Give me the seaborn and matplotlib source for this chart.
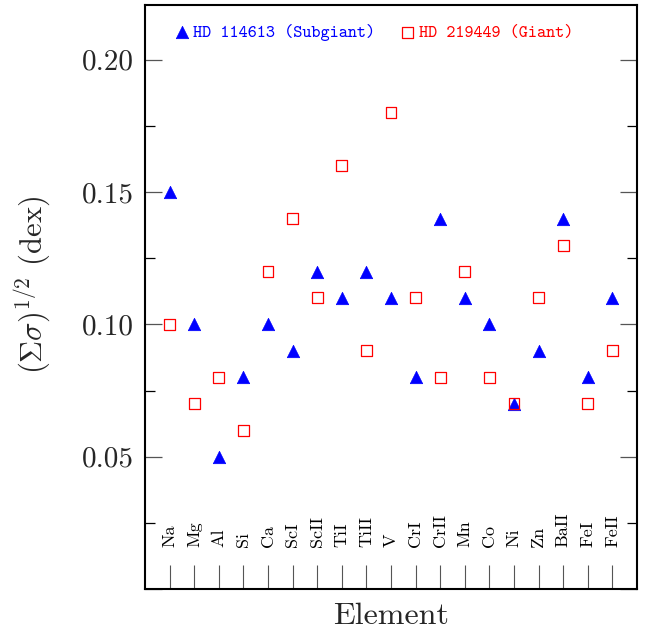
import matplotlib
matplotlib.use("Agg")
import matplotlib.pyplot as plt
from matplotlib.ticker import MultipleLocator, FuncFormatter
import seaborn as sns
import pandas as pd
import numpy as np

# Abundance uncertainty per element for the two stars
elements = ["Na", "Mg", "Al", "Si", "Ca", "ScI", "ScII", "TiI", "TiII", "V",
            "CrI", "CrII", "Mn", "Co", "Ni", "Zn", "BaII", "FeI", "FeII"]
subgiant = [0.15, 0.10, 0.05, 0.08, 0.10, 0.09, 0.12, 0.11, 0.12, 0.11,
            0.08, 0.14, 0.11, 0.10, 0.07, 0.09, 0.14, 0.08, 0.11]
giant = [0.10, 0.07, 0.08, 0.06, 0.12, 0.14, 0.11, 0.16, 0.09, 0.18,
         0.11, 0.08, 0.12, 0.08, 0.07, 0.11, 0.13, 0.07, 0.09]
series_labels = ["HD 114613 (Subgiant)", "HD 219449 (Giant)"]

sns.set_style("white")
plt.rcParams["font.family"] = ["cmr10", "DejaVu Serif"]
plt.rcParams["mathtext.fontset"] = "cm"
plt.rcParams["axes.unicode_minus"] = False
plt.rcParams["axes.formatter.use_mathtext"] = True

df = pd.DataFrame({"element": elements,
                   "pos": np.arange(1, len(elements) + 1),
                   "sub": subgiant, "giant": giant})

fig = plt.figure(figsize=(6.48, 6.32), dpi=100)
ax = fig.add_axes([0.2238, 0.068, 0.983 - 0.2238, 0.992 - 0.068])

sns.scatterplot(data=df, x="pos", y="sub", marker="^", s=80, color="blue",
                edgecolor="blue", linewidth=0.5, ax=ax, label=series_labels[0],
                zorder=3)
sns.scatterplot(data=df, x="pos", y="giant", marker="s", s=62, facecolor="none",
                edgecolor="red", linewidth=0.9, ax=ax, label=series_labels[1],
                zorder=3)

ax.set_xlim(0, len(elements) + 1)
ax.set_ylim(0, 0.2207)

# Element names written vertically inside the frame
for p, name in zip(df["pos"], df["element"]):
    ax.text(p, 0.0158, name, rotation=90, ha="center", va="bottom",
            fontsize=13, color="black")

ax.set_xticks(df["pos"])
ax.set_xticklabels([])
ax.tick_params(axis="x", which="major", direction="in", length=17, width=0.8,
               color="#555555", bottom=True, top=False)
ax.yaxis.set_major_locator(MultipleLocator(0.05))
ax.yaxis.set_minor_locator(MultipleLocator(0.025))
ax.yaxis.set_major_formatter(
    FuncFormatter(lambda v, _: "" if abs(v) < 1e-9 else f"{v:.2f}"))
ax.tick_params(axis="y", which="major", direction="in", length=12, width=0.9,
               color="#555555", left=True, right=True, labelsize=21, pad=8)
ax.tick_params(axis="y", which="minor", direction="in", length=7, width=0.9,
               color="black", left=True, right=True)

for sp in ax.spines.values():
    sp.set_linewidth(1.5)
    sp.set_color("black")

ax.set_xlabel("Element", fontsize=23, labelpad=6)
ax.set_ylabel(r"$(\Sigma\sigma)^{1/2}$ (dex)", fontsize=22)
ax.yaxis.set_label_coords(-0.19, 0.52)

leg = ax.legend(loc="upper left", ncol=2, frameon=False,
                bbox_to_anchor=(0.02, 0.995), handletextpad=0.0,
                columnspacing=1.2, handlelength=1.3,
                prop={"family": "cmtt10", "size": 12.5})
for txt, col in zip(leg.get_texts(), ["blue", "red"]):
    txt.set_color(col)

fig.savefig("out.png", dpi=100)
